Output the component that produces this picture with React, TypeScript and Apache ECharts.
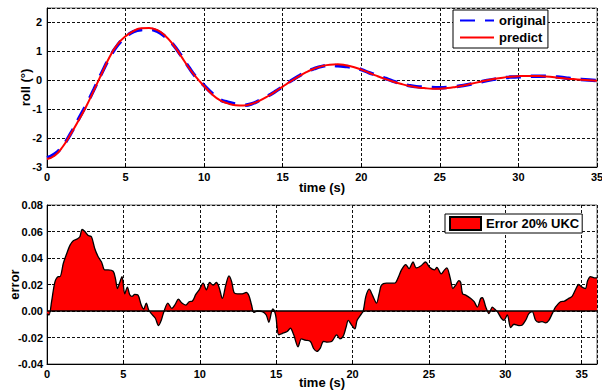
import React, { useEffect, useRef } from "react";
import * as echarts from "echarts";

const rollTime = [
  0, 0.5, 1, 1.5, 2, 2.5, 3, 3.5, 4, 4.5, 5, 5.5, 6, 6.5, 7, 7.5, 8, 8.5, 9, 9.5,
  10, 10.5, 11, 11.5, 12, 12.5, 13, 13.5, 14, 14.5, 15, 15.5, 16, 16.5, 17, 17.5,
  18, 18.5, 19, 19.5, 20, 20.5, 21, 21.5, 22, 22.5, 23, 23.5, 24, 24.5, 25, 25.5,
  26, 26.5, 27, 27.5, 28, 28.5, 29, 29.5, 30, 30.5, 31, 31.5, 32, 32.5, 33, 33.5,
  34, 34.5, 35,
];
const rollOriginal = [
  -2.68, -2.55, -2.27, -1.85, -1.35, -0.85, -0.3, 0.27, 0.8, 1.22, 1.5, 1.68, 1.75, 1.76,
  1.7, 1.52, 1.25, 0.88, 0.47, 0.1, -0.18, -0.45, -0.67, -0.76, -0.82, -0.86, -0.82, -0.7,
  -0.56, -0.4, -0.22, -0.03, 0.14, 0.29, 0.4, 0.48, 0.52, 0.5, 0.48, 0.44, 0.37, 0.26,
  0.17, 0.07, -0.03, -0.11, -0.18, -0.22, -0.24, -0.25, -0.26, -0.25, -0.22, -0.18, -0.13,
  -0.07, -0.01, 0.04, 0.08, 0.11, 0.12, 0.13, 0.14, 0.14, 0.13, 0.11, 0.08, 0.05, 0.03,
  0.01, -0.01,
];
const rollPredict = [
  -2.72, -2.6, -2.3, -1.87, -1.4, -0.9, -0.33, 0.25, 0.82, 1.25, 1.52, 1.7, 1.8, 1.81,
  1.74, 1.55, 1.25, 0.86, 0.45, 0.1, -0.2, -0.48, -0.69, -0.8, -0.86, -0.87, -0.82, -0.71,
  -0.57, -0.4, -0.22, -0.04, 0.13, 0.28, 0.4, 0.49, 0.54, 0.55, 0.52, 0.46, 0.37, 0.26,
  0.15, 0.05, -0.04, -0.12, -0.19, -0.24, -0.27, -0.29, -0.29, -0.27, -0.23, -0.18, -0.12,
  -0.06, 0.0, 0.05, 0.09, 0.12, 0.14, 0.15, 0.15, 0.14, 0.12, 0.09, 0.06, 0.04, 0.02,
  0.0, -0.02,
];

const errTime = [
  0, 0.13, 0.3, 0.52, 0.74, 0.85, 1.07, 1.28, 1.5, 1.72, 2.0, 2.15, 2.3, 2.48, 2.7, 2.91,
  3.13, 3.35, 3.57, 3.78, 4.0, 4.33, 4.48, 4.61, 4.76, 4.91, 5.09, 5.26, 5.41, 5.57, 5.74,
  5.96, 6.17, 6.33, 6.5, 6.65, 6.83, 7.09, 7.3, 7.48, 7.65, 7.91, 8.17, 8.39, 8.6, 8.83,
  9.09, 9.3, 9.52, 9.74, 9.96, 10.22, 10.43, 10.65, 10.87, 11.09, 11.26, 11.48, 11.7,
  11.91, 12.09, 12.24, 12.46, 12.78, 13.04, 13.22, 13.39, 13.54, 13.76, 14.09, 14.35,
  14.52, 14.7, 14.78, 14.96, 15.17, 15.39, 15.72, 15.93, 16.15, 16.43, 16.65, 16.91,
  17.24, 17.46, 17.67, 17.89, 18.09, 18.3, 18.63, 18.96, 19.17, 19.39, 19.57, 19.72,
  19.93, 20.15, 20.3, 20.59, 20.7, 20.87, 21.09, 21.3, 21.57, 21.74, 21.89, 22.22, 22.54,
  22.76, 22.98, 23.2, 23.48, 23.7, 23.96, 24.17, 24.46, 24.78, 25.04, 25.37, 25.52, 25.8,
  26.02, 26.17, 26.39, 26.57, 26.78, 26.95, 27.08, 27.2, 27.41, 27.74, 27.96, 28.17,
  28.39, 28.5, 28.72, 28.93, 29.15, 29.3, 29.48, 29.74, 29.91, 30.13, 30.35, 30.57, 30.89,
  31.11, 31.33, 31.54, 31.76, 31.98, 32.2, 32.41, 32.63, 32.85, 33.07, 33.28, 33.61,
  33.87, 34.15, 34.37, 34.59, 34.8, 35.02, 35.24, 35.39, 35.57, 35.83, 36,
];
const errValue = [
  -0.002, -0.003, 0.007, 0.022, 0.026, 0.026, 0.036, 0.043, 0.0495, 0.053, 0.0545, 0.056,
  0.0615, 0.06, 0.057, 0.056, 0.047, 0.041, 0.037, 0.031, 0.031, 0.03, 0.0245, 0.017,
  0.0215, 0.026, 0.013, 0.018, 0.0125, 0.011, 0.0125, 0.012, 0.0045, 0.0015, 0.006, 0.001,
  -0.002, -0.0055, -0.011, -0.007, -0.0005, 0.006, 0.002, 0.005, 0.009, 0.006, 0.0045,
  0.007, 0.0075, 0.0125, 0.016, 0.021, 0.016, 0.0215, 0.0195, 0.0215, 0.018, 0.0095,
  0.0195, 0.0265, 0.022, 0.014, 0.013, 0.013, 0.014, 0.0115, 0.0045, -0.001, 0, -0.0005,
  -0.003, -0.0085, -0.0005, 0.0015, -0.003, -0.018, -0.017, -0.0155, -0.013, -0.018,
  -0.027, -0.021, -0.022, -0.023, -0.0285, -0.0305, -0.028, -0.023, -0.0235, -0.023,
  -0.018, -0.021, -0.019, -0.0125, -0.007, -0.0105, -0.0135, -0.007, -0.002, 0, 0.011,
  0.0165, 0.012, 0.006, 0.013, 0.0195, 0.021, 0.021, 0.021, 0.025, 0.031, 0.035, 0.032,
  0.037, 0.0325, 0.034, 0.037, 0.033, 0.031, 0.033, 0.028, 0.031, 0.0325, 0.025, 0.017,
  0.02, 0.023, 0.0215, 0.013, 0.012, 0.0095, 0.007, 0.003, 0.0095, 0.01, 0.003, -0.002,
  0.003, 0.0015, -0.0005, -0.0055, -0.007, -0.003, -0.0125, -0.01, -0.011, -0.0105,
  -0.007, -0.002, -0.0005, -0.007, -0.0085, -0.008, -0.009, -0.007, -0.002, 0.003, 0.007,
  0.0075, 0.0095, 0.011, 0.016, 0.02, 0.018, 0.017, 0.023, 0.026, 0.025, 0.025,
];

const FONT = "'Liberation Sans', Arial, sans-serif";

export default function App() {
  const ref = useRef<HTMLDivElement>(null);
  useEffect(() => {
    if (!ref.current) return;
    const chart = echarts.init(ref.current, undefined, { renderer: "svg" });
    const label = { color: "#000", fontFamily: FONT, fontWeight: "bold", fontSize: 11 };
    const nameStyle = { color: "#000", fontFamily: FONT, fontWeight: "bold", fontSize: 13 };
    const split = { show: true, lineStyle: { color: "#111", type: [3, 2], width: 1 } };
    const axLine = { show: true, onZero: false, lineStyle: { color: "#000", width: 1 } };
    const ticks = { show: true, inside: true, length: 4, lineStyle: { color: "#000" } };
    chart.setOption({
      animation: false,
      backgroundColor: "#fff",
      grid: [
        { left: 47, top: 8, width: 550, height: 159, show: true, borderColor: "#666", borderWidth: 1, backgroundColor: "#fff", containLabel: false, outerBoundsMode: "none" },
        { left: 47, top: 205, width: 550, height: 159, show: true, borderColor: "#666", borderWidth: 1, backgroundColor: "#fff", containLabel: false, outerBoundsMode: "none" },
      ],
      legend: [
        {
          data: ["original", "predict"],
          left: 453,
          top: 10,
          orient: "vertical",
          padding: [4, 2, 4, 6],
          itemGap: 4,
          itemWidth: 34,
          itemHeight: 14,
          itemStyle: { opacity: 0 },
          borderColor: "#000",
          borderWidth: 1,
          backgroundColor: "#fff",
          textStyle: nameStyle,
        },
        {
          data: ["Error 20% UKC"],
          left: 445,
          top: 214,
          padding: [2, 3, 2, 4],
          itemWidth: 31,
          itemHeight: 13,
          icon: "rect",
          borderColor: "#000",
          borderWidth: 1,
          backgroundColor: "#fff",
          textStyle: nameStyle,
        },
      ],
      xAxis: [
        {
          type: "value", gridIndex: 0, min: 0, max: 35, interval: 5,
          name: "time (s)", nameLocation: "middle", nameGap: 14, nameMoveOverlap: false, nameTextStyle: nameStyle,
          axisLabel: { ...label, margin: 4 }, axisLine: axLine, axisTick: ticks, splitLine: split,
        },
        {
          type: "value", gridIndex: 1, min: 0, max: 36, interval: 5,
          name: "time (s)", nameLocation: "middle", nameGap: 12, nameMoveOverlap: false, nameTextStyle: nameStyle,
          axisLabel: { ...label, margin: 4, formatter: (v: number) => (v % 5 === 0 ? String(v) : "") },
          axisLine: axLine, axisTick: ticks, splitLine: split,
        },
      ],
      yAxis: [
        {
          type: "value", gridIndex: 0, min: -3, max: 2.5, interval: 1,
          name: "roll (°)", nameLocation: "middle", nameGap: 15, nameMoveOverlap: false, nameTextStyle: nameStyle,
          axisLabel: { ...label, margin: 5, formatter: (v: number) => (Number.isInteger(v) ? String(v) : "") },
          axisLine: axLine, axisTick: ticks, splitLine: split,
        },
        {
          type: "value", gridIndex: 1, min: -0.04, max: 0.08, interval: 0.02,
          name: "error", nameLocation: "middle", nameGap: 26, nameMoveOverlap: false, nameTextStyle: nameStyle,
          axisLabel: { ...label, margin: 4, formatter: (v: number) => v.toFixed(2) },
          axisLine: axLine, axisTick: ticks, splitLine: split,
        },
      ],
      series: [
        {
          name: "original", type: "line", xAxisIndex: 0, yAxisIndex: 0,
          data: rollTime.map((t, i) => [t, rollOriginal[i]]),
          symbol: "none", smooth: true, color: "#0000ff",
          lineStyle: { color: "#0000ff", width: 3.5, type: [15, 10] },
        },
        {
          name: "predict", type: "line", xAxisIndex: 0, yAxisIndex: 0,
          data: rollTime.map((t, i) => [t, rollPredict[i]]),
          symbol: "none", smooth: true, color: "#ff0000",
          lineStyle: { color: "#ff0000", width: 2 },
        },
        {
          name: "Error 20% UKC", type: "line", xAxisIndex: 1, yAxisIndex: 1,
          data: errTime.map((t, i) => [t, errValue[i]]),
          symbol: "none", smooth: 0.3, color: "#ff0000",
          itemStyle: { color: "#ff0000", borderColor: "#000", borderWidth: 1 },
          lineStyle: { color: "#000", width: 1.3 },
          areaStyle: { color: "#ff0000", opacity: 1 },
          markLine: {
            silent: true, symbol: "none", label: { show: false },
            lineStyle: { color: "#000", width: 1.5, type: "solid" },
            data: [{ yAxis: 0 }],
          },
        },
      ],
    });
    return () => chart.dispose();
  }, []);
  return <div ref={ref} style={{ width: 602, height: 390, position: "absolute", left: 0, top: 0 }} />;
}
